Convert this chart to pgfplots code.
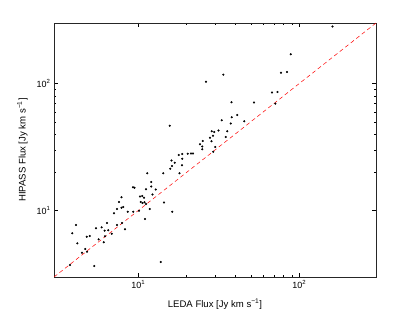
\documentclass[border=0pt]{standalone}
\usepackage{fontspec}
\setmainfont{Liberation Sans}
\usepackage{pgfplots}
\pgfplotsset{compat=1.18}
\begin{document}
\begin{tikzpicture}[x=1bp,y=1bp]
\useasboundingbox (0,0) rectangle (415,313);
\begin{axis}[
  at={(54bp,36bp)}, anchor=south west, scale only axis,
  width=322bp, height=254bp,
  xmode=log, ymode=log, xmin=3, xmax=300, ymin=3, ymax=300,
  xtick={10,100}, xticklabels={10\textsuperscript{1},10\textsuperscript{2}},
  ytick={10,100}, yticklabels={10\textsuperscript{1},10\textsuperscript{2}},
  tick align=inside, major tick length=4bp, minor tick length=2bp,
  every tick/.style={black, line width=0.4pt},
  axis line style={line width=0.6pt, black!85},
  tick label style={font=\fontsize{9}{10}\selectfont},
  label style={font=\fontsize{9.6}{11}\selectfont},
  xlabel={LEDA Flux [Jy km s\textsuperscript{−1}]},
  ylabel={HIPASS Flux [Jy km s\textsuperscript{−1}]},
  xlabel style={at={(axis description cs:0.5,-0.106)}, anchor=center},
  ylabel style={at={(axis description cs:-0.098,0.5)}, anchor=center},
  clip=true,
]
\addplot[red, line width=0.5pt, dash pattern=on 4bp off 3bp] coordinates {(3,3) (300,300)};
\addplot[only marks, mark=*, mark size=0.85pt, black] table {
x y
3.77 3.73
5.34 3.66
3.90 6.63
4.11 7.70
4.19 5.53
4.48 4.66
4.69 4.99
4.81 4.75
4.79 6.23
5.00 6.31
5.47 7.25
5.68 5.94
5.93 7.39
6.11 5.63
6.19 6.95
6.22 6.28
6.40 7.99
6.52 7.00
6.85 6.58
7.08 9.52
7.39 10.29
7.39 7.70
7.60 11.69
7.88 12.73
7.88 10.54
8.08 10.67
8.28 7.12
7.94 7.99
8.61 9.80
9.32 9.80
10.12 9.98
9.29 15.26
9.49 15.14
10.26 12.91
10.60 13.03
10.87 12.64
10.36 11.69
10.64 11.48
10.94 11.62
11.18 11.27
11.02 8.59
11.18 14.71
11.39 19.66
11.79 10.29
12.06 16.80
12.04 15.48
12.27 13.39
12.85 14.66
13.80 3.94
14.32 19.66
14.47 11.58
16.29 9.80
15.69 46.6
15.83 21.38
16.11 24.80
16.22 22.44
16.86 23.84
17.85 27.40
18.06 19.66
18.79 27.90
18.79 25.62
18.72 22.73
20.30 28.05
21.28 28.15
21.90 28.15
24.21 33.27
25.16 35.32
25.02 31.97
25.02 30.38
26.38 103.5
27.93 37.42
28.53 35.13
28.61 42.11
29.70 41.58
31.54 42.72
29.15 38.88
29.27 29.08
30.13 31.67
33.01 51.40
34.97 37.97
35.77 42.11
37.54 48.5
38.08 54.28
37.97 71.25
41.27 56.6
45.62 50.48
52.41 70.98
67.8 85.1
73.3 85.9
71.1 69.5
77.1 121.8
84.0 123.4
88.6 170.1
161.0 281.5
33.8 117.5
};
\end{axis}
\end{tikzpicture}
\end{document}
